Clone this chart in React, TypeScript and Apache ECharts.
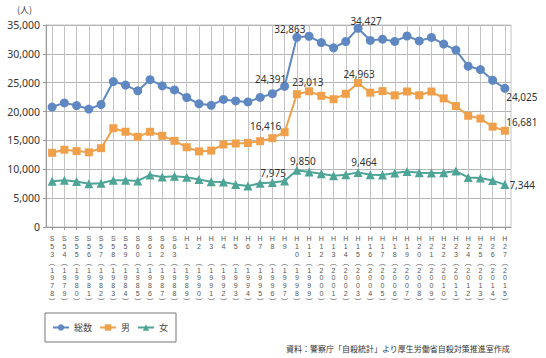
import React, { useEffect, useRef } from "react";
import * as echarts from "echarts";

const eras = ["S53","S54","S55","S56","S57","S58","S59","S60","S61","S62","S63","H1","H2","H3","H4","H5","H6","H7","H8","H9","H10","H11","H12","H13","H14","H15","H16","H17","H18","H19","H20","H21","H22","H23","H24","H25","H26","H27"];
const years = ["1978","1979","1980","1981","1982","1983","1984","1985","1986","1987","1988","1989","1990","1991","1992","1993","1994","1995","1996","1997","1998","1999","2000","2001","2002","2003","2004","2005","2006","2007","2008","2009","2010","2011","2012","2013","2014","2015"];
const total = [20788,21503,21048,20434,21228,25202,24596,23599,25524,24460,23742,22436,21346,21084,22104,21851,21679,22445,23104,24391,32863,33048,31957,31042,32143,34427,32325,32552,32155,33093,32249,32845,31690,30651,27858,27283,25427,24025];
const male = [12859,13386,13155,12942,13654,17116,16508,15624,16497,15802,14934,13818,13102,13242,14296,14468,14560,14874,15393,16416,23013,23512,22727,22144,23080,24963,23272,23540,22813,23478,22831,23472,22283,20955,19273,18787,17386,16681];
const female = [7929,8117,7893,7492,7574,8086,8088,7975,9027,8658,8808,8618,8244,7842,7808,7383,7119,7571,7711,7975,9850,9536,9230,8898,9063,9464,9053,9012,9342,9615,9418,9373,9407,9696,8585,8496,8041,7344];
const yTicks = [0, 5000, 10000, 15000, 20000, 25000, 30000, 35000];
const seriesNames = ["総数", "男", "女"];

const fmt = (v: number) => v.toLocaleString("en-US");

type LabelSpec = { position: string; offset: [number, number] };

function buildData(values: number[], labels: Record<number, LabelSpec>) {
  return values.map((v, i) => {
    const l = labels[i];
    if (!l) return v;
    return {
      value: v,
      label: {
        show: true,
        position: l.position,
        distance: 0,
        offset: l.offset,
        formatter: (p: any) => fmt(p.value),
        fontSize: 10,
        color: "#333",
        fontFamily: "'Noto Sans', 'Noto Sans CJK JP', sans-serif",
      },
    };
  });
}

export default function App() {
  const ref = useRef<HTMLDivElement>(null);
  useEffect(() => {
    document.body.style.margin = "0";
    if (!ref.current) return;
    const chart = echarts.init(ref.current, undefined, { renderer: "svg" });
    const font = "'Noto Sans CJK JP', 'Noto Sans', sans-serif";
    const colors = ["#5f87c2", "#f0a04b", "#4ea597"];
    const option: any = {
      animation: false,
      textStyle: { fontFamily: font },
      color: colors,
      grid: {
        left: 46,
        right: 35,
        top: 25,
        bottom: 131,
        show: true,
        borderColor: "#c4c4c4",
        borderWidth: 1,
      },
      legend: {
        data: seriesNames,
        left: 45,
        top: 313,
        orient: "horizontal",
        borderColor: "#777",
        borderWidth: 1,
        padding: [10, 8, 10, 7],
        itemWidth: 16,
        itemHeight: 8,
        itemGap: 7,
        textStyle: { fontSize: 9, color: "#444", fontFamily: font },
      },
      graphic: [
        {
          type: "text",
          left: 17,
          top: 5,
          style: { text: "(人)", fontSize: 9, fill: "#444", fontFamily: font },
        },
        {
          type: "text",
          right: 36,
          top: 344,
          style: {
            text: "資料：警察庁「自殺統計」より厚生労働省自殺対策推進室作成",
            fontSize: 8,
            fill: "#333",
            fontFamily: font,
          },
        },
      ],
      xAxis: {
        type: "category",
        data: eras,
        boundaryGap: true,
        axisLine: { show: true, lineStyle: { color: "#999", width: 1 } },
        axisTick: { show: true, alignWithLabel: true, interval: 0, length: 3, lineStyle: { color: "#999" } },
        splitLine: { show: true, alignWithLabel: true, interval: 0, lineStyle: { color: "#c4c4c4", width: 1 } },
        axisLabel: {
          interval: 0,
          margin: 8,
          fontSize: 7,
          lineHeight: 7.8,
          color: "#555",
          fontFamily: "'Liberation Sans', 'Noto Sans CJK JP', sans-serif",
          formatter: (value: string, idx: number) => {
            const rows = eras[idx].split("");
            while (rows.length < 3) rows.push(" ");
            return [...rows, "︵", ...years[idx].split(""), "︶"].join("\n");
          },
        },
      },
      yAxis: {
        type: "value",
        min: yTicks[0],
        max: yTicks[yTicks.length - 1],
        interval: 5000,
        axisLine: { show: true, lineStyle: { color: "#999", width: 1 } },
        axisTick: { show: true, length: 3, lineStyle: { color: "#999" } },
        splitLine: { show: true, lineStyle: { color: "#b4b4b4", width: 1 } },
        axisLabel: {
          margin: 6,
          fontSize: 10.5,
          color: "#333",
          fontFamily: "'Noto Sans', sans-serif",
          formatter: (v: number) => fmt(v),
        },
      },
      series: [
        {
          name: seriesNames[0],
          type: "line",
          symbol: "circle",
          symbolSize: 9,
          lineStyle: { width: 2, color: colors[0] },
          itemStyle: { color: colors[0] },
          z: 3,
          data: buildData(total, {
            19: { position: "top", offset: [-14, 2.5] },
            20: { position: "top", offset: [-7, 1] },
            25: { position: "top", offset: [8, 2] },
            37: { position: "bottom", offset: [17, -0.5] },
          }),
        },
        {
          name: seriesNames[1],
          type: "line",
          symbol: "rect",
          symbolSize: 8,
          lineStyle: { width: 2, color: colors[1] },
          itemStyle: { color: colors[1] },
          z: 3,
          data: buildData(male, {
            19: { position: "top", offset: [-19, 3] },
            20: { position: "top", offset: [11, -3] },
            25: { position: "top", offset: [1, 0] },
            37: { position: "top", offset: [17, 0] },
          }),
        },
        {
          name: seriesNames[2],
          type: "line",
          symbol: "triangle",
          symbolSize: 9,
          lineStyle: { width: 2, color: colors[2] },
          itemStyle: { color: colors[2] },
          z: 3,
          data: buildData(female, {
            19: { position: "top", offset: [-11.5, 1.7] },
            20: { position: "top", offset: [6, 0.5] },
            25: { position: "top", offset: [6, -0.5] },
            37: { position: "right", offset: [0, 0] },
          }),
        },
      ],
    };
    chart.setOption(option);
    return () => chart.dispose();
  }, []);
  return <div ref={ref} style={{ width: 546, height: 358 }} />;
}
